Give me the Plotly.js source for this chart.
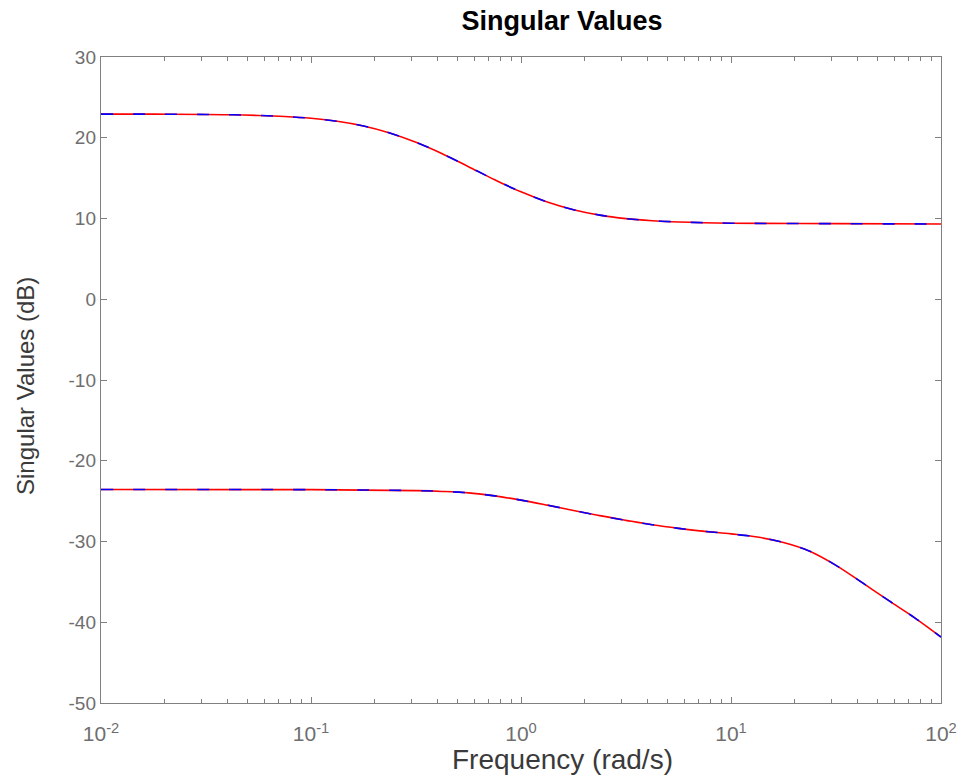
<!DOCTYPE html>
<html>
<head>
<meta charset="utf-8">
<script src="https://cdn.plot.ly/plotly-3.0.1.min.js"></script>
<style>html,body{margin:0;padding:0;background:#fff;}#chart{width:964px;height:776px;}</style>
</head>
<body>
<div id="chart"></div>
<script>
// Frequency (rad/s) and singular values (dB)
const freqUpper = [0.01, 0.01778, 0.03162, 0.04217, 0.05623, 0.07499, 0.1, 0.1334, 0.1778, 0.2371, 0.3162, 0.4217, 0.5623, 0.7499, 1, 1.334, 1.778, 2.371, 3.162, 4.217, 5.623, 10, 31.62, 100];
const svUpper   = [22.93, 22.92, 22.88, 22.84, 22.76, 22.63, 22.41, 22.04, 21.46, 20.60, 19.44, 18.02, 16.42, 14.80, 13.30, 12.05, 11.09, 10.42, 9.99, 9.73, 9.57, 9.42, 9.36, 9.32];
const freqLower = [0.01, 0.1, 0.3162, 0.4217, 0.5623, 0.7499, 1, 1.334, 1.778, 2.371, 3.162, 4.217, 5.623, 7.499, 10, 13.34, 17.78, 23.71, 31.62, 42.17, 56.23, 74.99, 100];
const svLower   = [-23.56, -23.58, -23.70, -23.80, -23.98, -24.35, -24.88, -25.50, -26.15, -26.80, -27.38, -27.93, -28.37, -28.74, -29.06, -29.45, -30.12, -31.20, -32.95, -35.10, -37.30, -39.45, -41.83];

const xTickVals = [0.01, 0.1, 1, 10, 100];
const xTickText = ['10<sup>-2</sup>', '10<sup>-1</sup>', '10<sup>0</sup>', '10<sup>1</sup>', '10<sup>2</sup>'];
const yTickVals = [-50, -40, -30, -20, -10, 0, 10, 20, 30];
const yTickText = ['-50', '-40', '-30', '-20', '-10', '0', '10', '20', '30'];

const axisColor = '#808080';
const textColor = '#6e6e6e';
const labelColor = '#3a3a3a';
const fontFam = 'Liberation Sans, Arial, sans-serif';

function solid(x, y) {
  return {x: x, y: y, mode: 'lines', type: 'scatter', line: {color: '#ff0000', width: 1.6, shape: 'spline', smoothing: 1}, hoverinfo: 'skip', showlegend: false};
}
function dashed(x, y) {
  return {x: x, y: y, mode: 'lines', type: 'scatter', line: {color: '#0000ff', width: 1.6, dash: '12px,20px', shape: 'spline', smoothing: 1}, hoverinfo: 'skip', showlegend: false};
}

const data = [solid(freqUpper, svUpper), solid(freqLower, svLower), dashed(freqUpper, svUpper), dashed(freqLower, svLower)];

const layout = {
  width: 964, height: 776,
  margin: {l: 101, r: 23, t: 57, b: 73, pad: 0},
  paper_bgcolor: '#ffffff', plot_bgcolor: '#ffffff',
  font: {family: fontFam, color: textColor},
  title: {text: '<b>Singular Values</b>', font: {size: 27, color: '#000000', family: fontFam},
          x: 562 / 964, xref: 'container', xanchor: 'center', y: 1 - 21 / 776, yref: 'container', yanchor: 'middle'},
  xaxis: {
    type: 'log', range: [-2, 2], tickvals: xTickVals, ticktext: xTickText,
    showgrid: false, zeroline: false, showline: true, linecolor: axisColor, linewidth: 1.2, mirror: 'ticks',
    ticks: 'inside', ticklen: 6, tickcolor: axisColor, tickwidth: 1,
    tickfont: {size: 21, color: textColor}, ticklabelstandoff: 12,
    minor: {ticks: 'inside', ticklen: 4, tickcolor: axisColor, dtick: 'D1', showgrid: false},
    fixedrange: true
  },
  yaxis: {
    range: [-50, 30], tickvals: yTickVals, ticktext: yTickText,
    showgrid: false, zeroline: false, showline: true, linecolor: axisColor, linewidth: 1.2, mirror: 'ticks',
    ticks: 'inside', ticklen: 6, tickcolor: axisColor, tickwidth: 1,
    tickfont: {size: 19, color: textColor},
    fixedrange: true
  },
  annotations: [
    {text: 'Frequency (rad/s)', xref: 'paper', yref: 'paper', x: (562 - 101) / 840, y: -(760 - 703) / 646,
     xanchor: 'center', yanchor: 'middle', showarrow: false, font: {size: 28, color: labelColor, family: fontFam}},
    {text: 'Singular Values (dB)', xref: 'paper', yref: 'paper', x: (25 - 101) / 840, y: (703 - 386) / 646,
     xanchor: 'center', yanchor: 'middle', textangle: -90, showarrow: false, font: {size: 24, color: labelColor, family: fontFam}}
  ]
};

Plotly.newPlot('chart', data, layout, {staticPlot: true, displayModeBar: false});
</script>
</body>
</html>
